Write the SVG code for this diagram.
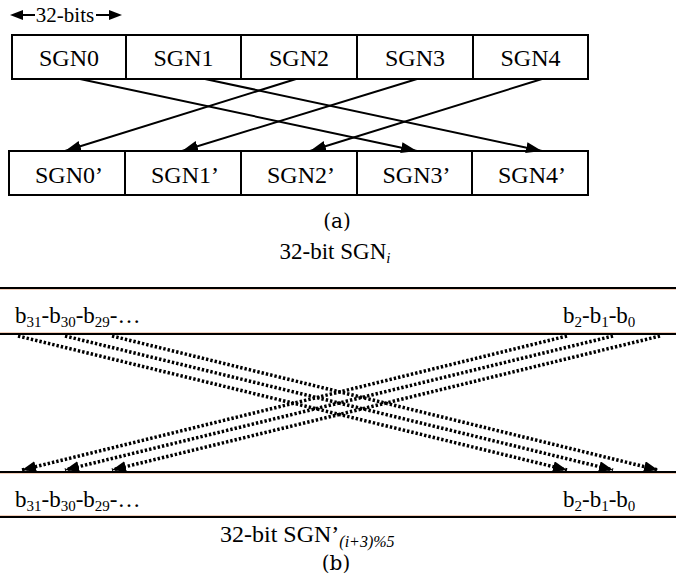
<svg xmlns="http://www.w3.org/2000/svg" width="676" height="581" viewBox="0 0 676 581">
<style>
.box{fill:#fff;stroke:#000;stroke-width:2}
.lbl{font-family:"Liberation Serif","Times New Roman",serif;font-size:24px;fill:#000;text-anchor:middle}
.bit{font-family:"Liberation Serif","Times New Roman",serif;font-size:23px;fill:#000}
.cap{font-family:"DejaVu Serif","Liberation Serif",serif;font-size:20px;fill:#000;text-anchor:middle}
.rule{stroke:#000;stroke-width:2}
.rule2{stroke:#f2cdb8;stroke-width:1}
.conn{fill:none;stroke:#000;stroke-width:2}
.dot{fill:none;stroke:#000;stroke-width:3.5;stroke-dasharray:2.4 2}
</style>
<defs>
<marker id="ah" markerUnits="userSpaceOnUse" markerWidth="18" markerHeight="12" refX="16" refY="5.5" orient="auto">
<path d="M0,0 L16,5.5 L0,11 z" fill="#000" stroke="none"/>
</marker>
<marker id="ahs" markerUnits="userSpaceOnUse" markerWidth="15" markerHeight="12" refX="14" refY="5.5" orient="auto">
<path d="M0,0 L14,5.5 L0,11 z" fill="#000" stroke="none"/>
</marker>
</defs>

<!-- width indicator -->
<g id="width-label">
<line x1="35" y1="15" x2="20" y2="15" stroke="#000" stroke-width="2"/>
<path d="M10,15 L23,10 L23,20 z" fill="#000"/>
<text x="65" y="22" font-family="Liberation Serif, Times New Roman, serif" font-size="21" text-anchor="middle">32-bits</text>
<line x1="96" y1="15" x2="112" y2="15" stroke="#000" stroke-width="2"/>
<path d="M122,15 L109,10 L109,20 z" fill="#000"/>
</g>

<!-- top row -->
<g id="SGN0"><rect class="box" x="12" y="35" width="114" height="44"/><text class="lbl" x="69" y="66">SGN0</text></g>
<g id="SGN1"><rect class="box" x="126" y="35" width="115" height="44"/><text class="lbl" x="183.5" y="66">SGN1</text></g>
<g id="SGN2"><rect class="box" x="241" y="35" width="116" height="44"/><text class="lbl" x="299" y="66">SGN2</text></g>
<g id="SGN3"><rect class="box" x="357" y="35" width="116" height="44"/><text class="lbl" x="415" y="66">SGN3</text></g>
<g id="SGN4"><rect class="box" x="473" y="35" width="115" height="44"/><text class="lbl" x="530.5" y="66">SGN4</text></g>

<!-- bottom row -->
<g id="SGN0p"><rect class="box" x="9" y="151" width="116" height="44"/><text class="lbl" x="69" y="183">SGN0’</text></g>
<g id="SGN1p"><rect class="box" x="125" y="151" width="116" height="44"/><text class="lbl" x="185" y="183">SGN1’</text></g>
<g id="SGN2p"><rect class="box" x="241" y="151" width="116" height="44"/><text class="lbl" x="301" y="183">SGN2’</text></g>
<g id="SGN3p"><rect class="box" x="357" y="151" width="115" height="44"/><text class="lbl" x="416.5" y="183">SGN3’</text></g>
<g id="SGN4p"><rect class="box" x="472" y="151" width="116" height="44"/><text class="lbl" x="532" y="183">SGN4’</text></g>

<g id="connectors-a">
<line class="conn" x1="80" y1="79" x2="417" y2="151" marker-end="url(#ah)"/>
<line class="conn" x1="205" y1="79" x2="542" y2="151" marker-end="url(#ah)"/>
<line class="conn" x1="296" y1="79" x2="65" y2="151" marker-end="url(#ah)"/>
<line class="conn" x1="417" y1="79" x2="182" y2="151" marker-end="url(#ah)"/>
<line class="conn" x1="542" y1="79" x2="310" y2="151" marker-end="url(#ah)"/>
</g>

<text class="cap" x="337" y="228">(a)</text>

<!-- part b -->
<g id="source-word">
<text x="335" y="259" font-family="Liberation Serif, Times New Roman, serif" font-size="23" text-anchor="middle">32-bit SGN<tspan font-style="italic" font-size="15" dy="4">i</tspan></text>
<line class="rule" x1="0" y1="288" x2="676" y2="288"/>
<line class="rule2" x1="0" y1="289.5" x2="676" y2="289.5"/>
<line class="rule" x1="0" y1="334" x2="676" y2="334"/>
<line class="rule2" x1="0" y1="332.5" x2="676" y2="332.5"/>
<text class="bit" x="15" y="323">b<tspan font-size="15" dy="4">31</tspan><tspan dy="-4">-b</tspan><tspan font-size="15" dy="4">30</tspan><tspan dy="-4">-b</tspan><tspan font-size="15" dy="4">29</tspan><tspan dy="-4">-…</tspan></text>
<text class="bit" x="563" y="323">b<tspan font-size="15" dy="4">2</tspan><tspan dy="-4">-b</tspan><tspan font-size="15" dy="4">1</tspan><tspan dy="-4">-b</tspan><tspan font-size="15" dy="4">0</tspan></text>
</g>

<g id="dest-word">
<line class="rule" x1="0" y1="472" x2="676" y2="472"/>
<line class="rule2" x1="0" y1="473.5" x2="676" y2="473.5"/>
<line class="rule" x1="0" y1="517" x2="676" y2="517"/>
<line class="rule2" x1="0" y1="515.5" x2="676" y2="515.5"/>
<text class="bit" x="15" y="507">b<tspan font-size="15" dy="4">31</tspan><tspan dy="-4">-b</tspan><tspan font-size="15" dy="4">30</tspan><tspan dy="-4">-b</tspan><tspan font-size="15" dy="4">29</tspan><tspan dy="-4">-…</tspan></text>
<text class="bit" x="563" y="507">b<tspan font-size="15" dy="4">2</tspan><tspan dy="-4">-b</tspan><tspan font-size="15" dy="4">1</tspan><tspan dy="-4">-b</tspan><tspan font-size="15" dy="4">0</tspan></text>
<text x="220" y="542" font-family="Liberation Serif, Times New Roman, serif" font-size="24">32-bit SGN’<tspan font-style="italic" font-size="16" dy="5">(i+3)%5</tspan></text>
</g>

<g id="connectors-b">
<line class="dot" x1="18" y1="336" x2="567" y2="470" marker-end="url(#ahs)"/>
<line class="dot" x1="65" y1="336" x2="613" y2="470" marker-end="url(#ahs)"/>
<line class="dot" x1="112" y1="336" x2="658" y2="470" marker-end="url(#ahs)"/>
<line class="dot" x1="567" y1="336" x2="22" y2="470" marker-end="url(#ahs)"/>
<line class="dot" x1="613" y1="336" x2="65" y2="470" marker-end="url(#ahs)"/>
<line class="dot" x1="660" y1="336" x2="112" y2="470" marker-end="url(#ahs)"/>
</g>

<text class="cap" x="336" y="570">(b)</text>
</svg>
